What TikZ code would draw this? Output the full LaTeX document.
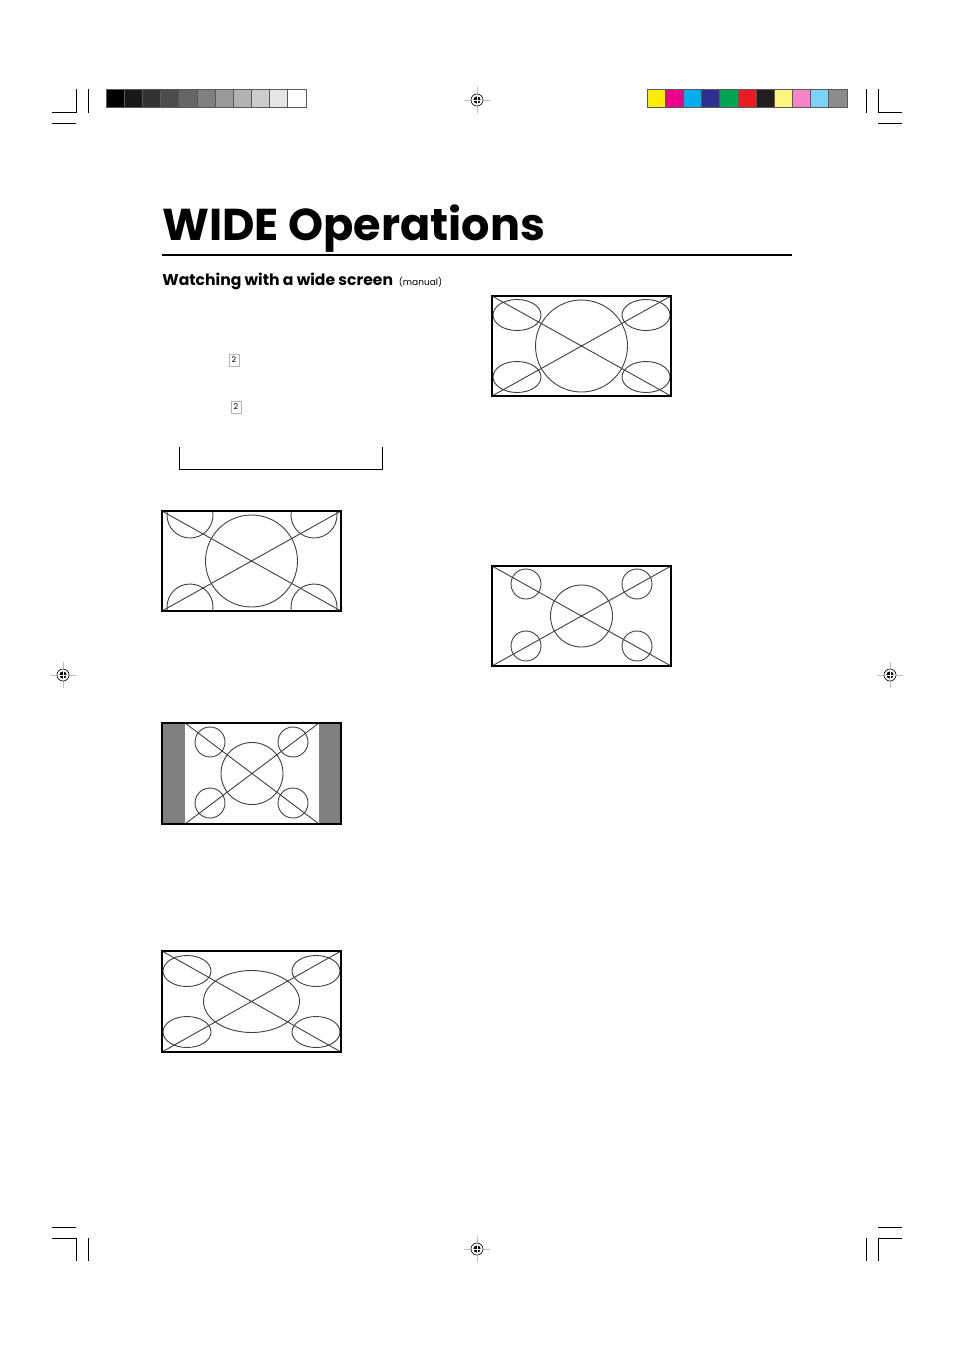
\documentclass[tikz,border=0pt]{standalone}
\usepackage{fontspec}
\setmainfont{Poppins}
\usetikzlibrary{calc}
\definecolor{barY}{RGB}{255,237,0}
\definecolor{barM}{RGB}{236,0,140}
\definecolor{barC}{RGB}{0,174,239}
\definecolor{barB}{RGB}{46,49,146}
\definecolor{barG}{RGB}{0,166,81}
\definecolor{barR}{RGB}{237,28,36}
\definecolor{barK}{RGB}{35,31,32}
\definecolor{barLY}{RGB}{255,246,128}
\definecolor{barLM}{RGB}{245,132,200}
\definecolor{barLC}{RGB}{125,211,247}
\definecolor{barN}{RGB}{140,140,140}
\colorlet{sidebar}{black!50}

\begin{document}
\begin{tikzpicture}[x=1pt, y=-1pt, line width=0.8pt,
    screen frame/.style={draw=black, line width=1.6pt},
    pattern line/.style={draw=black!75, line width=0.9pt},
    crop line/.style={draw=black, line width=0.7pt},
    reg guide/.style={draw=black!25, line width=0.8pt},
    patch/.style={draw=black!65, line width=0.8pt},
    keybox/.style={draw=black!30, line width=0.5pt, inner sep=0pt, minimum width=10pt, minimum height=12pt, font=\fontsize{8}{8}\selectfont}
  ]
  \def\patchw{18.18}
  \useasboundingbox[fill=white] (0,0) rectangle (954,1351);

  % crop marks
  \begin{scope}[every path/.style={crop line}]
    \draw (52,112) -- (76,112) -- (76,89);
    \draw (88,89) -- (88,113);
    \draw (52,123) -- (76,123);
    \draw (902,112) -- (878,112) -- (878,89);
    \draw (866,89) -- (866,113);
    \draw (878,123) -- (902,123);
    \draw (52,1238) -- (76,1238) -- (76,1261);
    \draw (88,1238) -- (88,1261);
    \draw (52,1227) -- (76,1227);
    \draw (902,1238) -- (878,1238) -- (878,1261);
    \draw (866,1238) -- (866,1261);
    \draw (878,1227) -- (902,1227);
  \end{scope}

  % colour bars
  \foreach \g [count=\i from 0] in {100,90,80,70,60,50,40,30,20,10,0}
    \path[patch, fill=black!\g] (106+\i*\patchw,89) rectangle +(\patchw,18);
  \foreach \c [count=\i from 0] in {barY,barM,barC,barB,barG,barR,barK,barLY,barLM,barLC,barN}
    \path[patch, fill=\c] (647+\i*\patchw,89) rectangle +(\patchw,18);

  % registration marks
  \foreach \n/\x/\y in {regt/477/100, regb/477/1249, regl/63/675, regr/890/675} {
    \coordinate (\n) at (\x,\y);
    \draw[reg guide] ($(\n)+(-13,0)$) -- ($(\n)+(13,0)$) ($(\n)+(0,-13)$) -- ($(\n)+(0,13)$);
    \draw[black, line width=0.6pt, fill=white] (\n) circle[radius=6];
    \fill[black] (\n) circle[radius=3.6];
    \draw[white, line width=0.8pt] ($(\n)+(-4,0)$) -- ($(\n)+(4,0)$) ($(\n)+(0,-4)$) -- ($(\n)+(0,4)$);
  }

  % heading
  \node[anchor=base west, inner sep=0pt, font=\fontsize{44.6}{46}\selectfont\bfseries] (title) at (162,240) {WIDE Operations};
  \coordinate (rulel) at (162,255);
  \coordinate (ruler) at (792,255);
  \draw[line width=2.6pt] (rulel) -- (ruler);
  \node[anchor=base west, inner sep=0pt, font=\fontsize{15.6}{16}\selectfont\bfseries] (subtitle) at (162,285) {Watching with a wide screen};
  \node[anchor=base west, inner sep=0pt, font=\fontsize{9}{9}\selectfont] (manual) at ($(subtitle.base east)+(5,0)$) {(manual)};

  \node[keybox] (keya) at (234,360) {2};
  \node[keybox] (keyb) at (236,407) {2};

  \coordinate (brl) at (179,447);
  \coordinate (brr) at (382,447);
  \draw[line width=0.8pt] (brl) -- (brl |- 0,469) -- (brr |- 0,469) -- (brr);

  % screen 1: circles
  \coordinate (sa) at (162,511);
  \coordinate (sb) at (341,611);
  \begin{scope}
    \clip (sa) rectangle (sb);
    \draw[pattern line] (sa) -- (sb) (sa |- sb) -- (sb |- sa);
    \draw[pattern line] (251.5,561) circle[radius=46];
    \foreach \x/\y in {190/515,314/515,190/607,314/607}
      \draw[pattern line] (\x,\y) circle[radius=23];
  \end{scope}
  \draw[screen frame] (sa) rectangle (sb);

  % screen 2: side bars
  \coordinate (ta) at (162,723);
  \coordinate (tb) at (341,824);
  \path[fill=sidebar] (ta) rectangle (185,824);
  \path[fill=sidebar] (319,723) rectangle (tb);
  \begin{scope}
    \clip (185,723) rectangle (319,824);
    \draw[pattern line] (185,723) -- (319,824) (185,824) -- (319,723);
    \draw[pattern line] (252,773.5) circle[radius=31];
    \foreach \x/\y in {210/742,293/742,210/803,293/803}
      \draw[pattern line] (\x,\y) circle[radius=15];
  \end{scope}
  \draw[screen frame] (ta) rectangle (tb);

  % screen 3: stretched
  \coordinate (ua) at (162,951);
  \coordinate (ub) at (341,1052);
  \begin{scope}
    \clip (ua) rectangle (ub);
    \draw[pattern line] (ua) -- (ub) (ua |- ub) -- (ub |- ua);
    \draw[pattern line] (251.5,1001.5) ellipse[x radius=48, y radius=31];
    \foreach \x/\y in {187/971,316/971,187/1032,316/1032}
      \draw[pattern line] (\x,\y) ellipse[x radius=24, y radius=15.5];
  \end{scope}
  \draw[screen frame] (ua) rectangle (ub);

  % screen 4: zoom
  \coordinate (va) at (492,296);
  \coordinate (vb) at (671,396);
  \begin{scope}
    \clip (va) rectangle (vb);
    \draw[pattern line] (va) -- (vb) (va |- vb) -- (vb |- va);
    \draw[pattern line] (581.5,346) circle[radius=46];
    \foreach \x/\y in {517/315,646/315,517/377,646/377}
      \draw[pattern line] (\x,\y) ellipse[x radius=24, y radius=15.5];
  \end{scope}
  \draw[screen frame] (va) rectangle (vb);

  % screen 5: 2:3.5
  \coordinate (wa) at (492,566);
  \coordinate (wb) at (671,666);
  \begin{scope}
    \clip (wa) rectangle (wb);
    \draw[pattern line] (wa) -- (wb) (wa |- wb) -- (wb |- wa);
    \draw[pattern line] (581.5,616) circle[radius=31];
    \foreach \x/\y in {526/584,637/584,526/646,637/646}
      \draw[pattern line] (\x,\y) circle[radius=15];
  \end{scope}
  \draw[screen frame] (wa) rectangle (wb);
\end{tikzpicture}
\end{document}
